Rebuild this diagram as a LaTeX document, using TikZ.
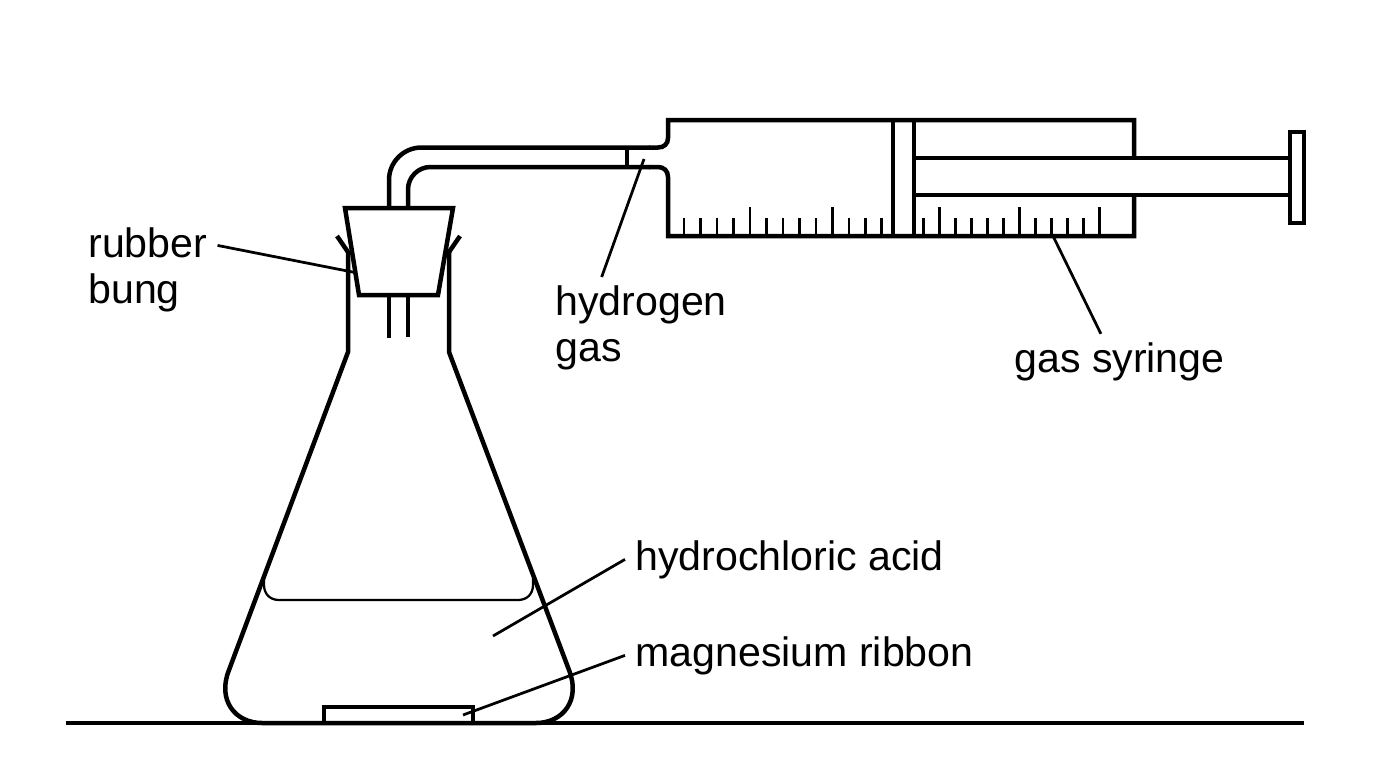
\documentclass[tikz,border=0pt]{standalone}
\usepackage{fontspec}
\setmainfont{Liberation Sans}
\tikzset{
	glass/.style={line width=0.09cm},
	tick/.style={line width=0.052cm},
	leader/.style={line width=0.055cm},
	liquid/.style={line width=0.045cm},
	lbl/.style={inner xsep=0.2cm, inner ysep=0.16cm, align=left, font=\fontsize{23.4}{26.1}\selectfont}
}
\begin{document}
\begin{tikzpicture}[x=0.02cm, y=-0.02cm]
	\useasboundingbox (0, 0) rectangle (1376, 768);
	\draw[glass] (66, 723) -- (1304, 723);
	\draw[glass] (348, 252) -- (348, 352) -- (229, 670) .. controls (217, 700) and (235, 723) .. (262, 723) -- (536, 723) .. controls (563, 723) and (581, 700) .. (569, 670) -- (449, 352) -- (449, 252);
	\draw[glass] (337, 236) -- (350, 255);
	\draw[glass] (460, 236) -- (447, 255);
	\draw[glass] (345, 208) -- (453, 208) -- (438, 295) -- (359, 295) -- cycle;
	\draw[glass] (389, 295) -- (389, 338);
	\draw[glass] (408, 295) -- (408, 337);
	\draw[liquid] (264, 578) -- (264, 585) .. controls (264, 594) and (270, 600) .. (279, 600) -- (518, 600) .. controls (527, 600) and (533, 594) .. (533, 585) -- (533, 578);
	\draw[glass] (324, 723) -- (324, 707) -- (473, 707) -- (473, 723);
	\draw[glass, rounded corners=0.65cm] (389, 208) -- (389, 147.5) -- (650, 147.5);
	\draw[glass, rounded corners=0.45cm] (408, 208) -- (408, 167) -- (650, 167);
	\draw[glass] (627, 147.5) -- (627, 167);
	\draw[glass] (649, 147.5) -- (658, 147.5) .. controls (664, 147.5) and (668, 144) .. (668, 138) -- (668, 120) -- (1134, 120) -- (1134, 158);
	\draw[glass] (649, 167) -- (658, 167) .. controls (664, 167) and (668, 171) .. (668, 177) -- (668, 236) -- (1134, 236) -- (1134, 195);
	\draw[glass] (893, 120) -- (893, 236);
	\draw[glass] (914, 120) -- (914, 236);
	\draw[glass] (914, 158) -- (1290, 158);
	\draw[glass] (914, 195) -- (1290, 195);
	\draw[glass] (1290, 132) rectangle (1304, 223);
	\draw[tick] (684, 236) -- (684, 218);
	\draw[tick] (700.5, 236) -- (700.5, 218);
	\draw[tick] (717, 236) -- (717, 218);
	\draw[tick] (733.5, 236) -- (733.5, 218);
	\draw[tick] (750, 236) -- (750, 207);
	\draw[tick] (766.5, 236) -- (766.5, 218);
	\draw[tick] (783, 236) -- (783, 218);
	\draw[tick] (799.5, 236) -- (799.5, 218);
	\draw[tick] (816, 236) -- (816, 218);
	\draw[tick] (832.5, 236) -- (832.5, 207);
	\draw[tick] (849, 236) -- (849, 218);
	\draw[tick] (865.5, 236) -- (865.5, 218);
	\draw[tick] (881.5, 236) -- (881.5, 218);
	\draw[tick] (923.7, 236) -- (923.7, 218);
	\draw[tick] (939.7, 236) -- (939.7, 207);
	\draw[tick] (955.7, 236) -- (955.7, 218);
	\draw[tick] (971.7, 236) -- (971.7, 218);
	\draw[tick] (987.7, 236) -- (987.7, 218);
	\draw[tick] (1003.7, 236) -- (1003.7, 218);
	\draw[tick] (1019.7, 236) -- (1019.7, 207);
	\draw[tick] (1035.7, 236) -- (1035.7, 218);
	\draw[tick] (1051.7, 236) -- (1051.7, 218);
	\draw[tick] (1067.7, 236) -- (1067.7, 218);
	\draw[tick] (1083.7, 236) -- (1083.7, 218);
	\draw[tick] (1099.7, 236) -- (1099.7, 207);
	\node[lbl, anchor=base west] (rubberbung) at (78, 303) {rubber\\bung};
	\node[lbl, anchor=base west] (hydrogengas) at (545, 361) {hydrogen\\gas};
	\node[lbl, anchor=base west] (gassyringe) at (1004, 372) {gas syringe};
	\node[lbl, anchor=base west] (hclacid) at (625, 570) {hydrochloric acid};
	\node[lbl, anchor=base west] (mgribbon) at (625, 666) {magnesium ribbon};
	\coordinate (bungtip) at (355, 272.5);
	\coordinate (gastip) at (644, 159);
	\coordinate (syringetip) at (1053, 236);
	\coordinate (acidtip) at (493, 636);
	\coordinate (ribbontip) at (463, 715);
	\draw[leader] (rubberbung.19) -- (bungtip);
	\draw[leader] (hydrogengas.128) -- (gastip);
	\draw[leader] (gassyringe.124) -- (syringetip);
	\draw[leader] (hclacid.west) -- (acidtip);
	\draw[leader] (mgribbon.west) -- (ribbontip);
\end{tikzpicture}
\end{document}
